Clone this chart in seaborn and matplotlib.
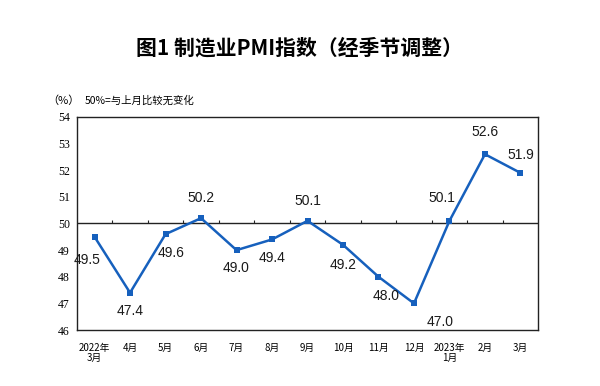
import matplotlib
matplotlib.use("Agg")
import matplotlib.pyplot as plt
import seaborn as sns
import pandas as pd

# PMI by month, 2022-03 .. 2023-03
months = ["2022年\n3月", "4月", "5月", "6月", "7月", "8月", "9月", "10月",
          "11月", "12月", "2023年\n1月", "2月", "3月"]
pmi = [49.5, 47.4, 49.6, 50.2, 49.0, 49.4, 50.1, 49.2, 48.0, 47.0, 50.1, 52.6, 51.9]
yticks = [46, 47, 48, 49, 50, 51, 52, 53, 54]

# label offsets in pixels (dx, dy) relative to each point
label_off = [(-7, -23), (0, -18), (6, -19), (0, 20), (0, -18), (0, -19), (0, 20),
             (0, -20), (8, -19), (26, -19), (-8, 23), (0, 22), (0, 18)]

sns.set_theme(style="white")
plt.rcParams['font.family'] = ['Noto Sans CJK SC', 'DejaVu Sans']
plt.rcParams['text.color'] = 'black'
plt.rcParams['xtick.color'] = 'black'
plt.rcParams['ytick.color'] = 'black'

df = pd.DataFrame({"month": months, "pmi": pmi})

fig = plt.figure(figsize=(6, 3.86), dpi=100)
ax = fig.add_axes([0.128, 0.145, 0.769, 0.552])

line_col = "#1660bd"
sns.lineplot(data=df, x="month", y="pmi", sort=False, ax=ax, color=line_col,
             linewidth=1.8, marker="s", markersize=5, markeredgewidth=0)

ax.set_xlim(-0.5, len(months) - 0.5)
ax.set_ylim(46, 54)
ax.set_yticks(yticks)
ax.set_yticklabels([str(v) for v in yticks], family="Liberation Serif", fontsize=8.5)
ax.set_xticks(range(len(months)))
ax.set_xticklabels(months, fontsize=7, linespacing=1.1)
ax.tick_params(axis="both", length=0, pad=9)
ax.tick_params(axis="y", pad=5)
ax.set_xlabel("")
ax.set_ylabel("")

for s in ax.spines.values():
    s.set_color("#222222")
    s.set_linewidth(1.0)

# reference line at 50 with small upward ticks at category boundaries
ax.axhline(50, color="#222222", lw=1.0, zorder=1)
bounds = [i + 0.5 for i in range(len(months) - 1)]
ax.vlines(bounds, 50, 50.12, color="#222222", lw=0.8, zorder=1)

for i, (v, off) in enumerate(zip(pmi, label_off)):
    ax.annotate(f"{v:.1f}", (i, v), xytext=off, textcoords="offset pixels",
                ha="center", va="center", fontsize=10, family="Liberation Sans",
                color="#1a1a1a")

fig.text(0.5, 0.876, "图1 制造业PMI指数（经季节调整）", ha="center", va="center",
         fontsize=15, fontweight="bold")
fig.text(0.078, 0.74, "（%）", ha="left", va="center", fontsize=8)
fig.text(0.142, 0.74, "50%=与上月比较无变化", ha="left", va="center", fontsize=7.5)

fig.savefig("out.png", dpi=100)
